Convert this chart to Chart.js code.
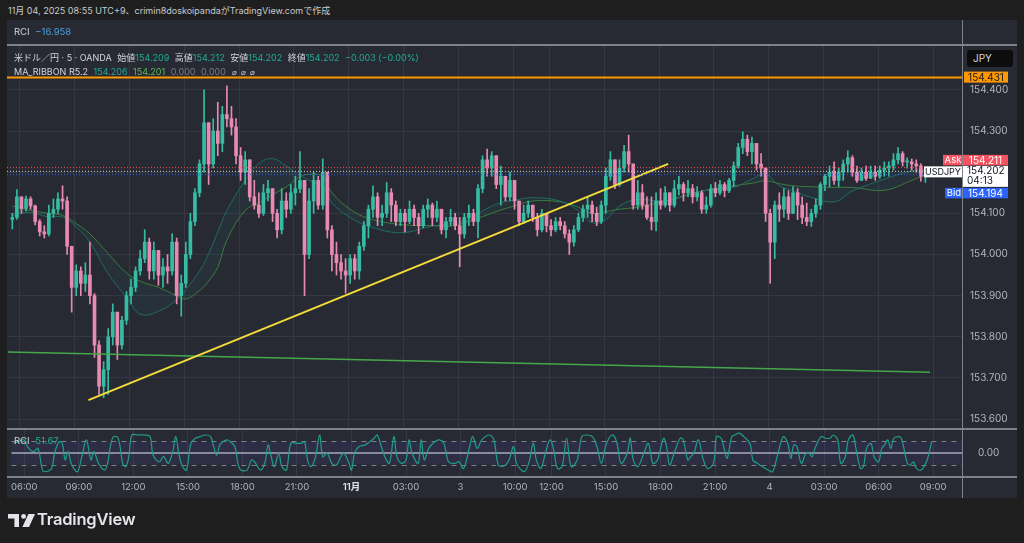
<!DOCTYPE html>
<html lang="ja">
<head>
<meta charset="utf-8">
<title>米ドル／円 · 5 · OANDA</title>
<script src="https://cdn.jsdelivr.net/npm/chart.js@4.4.1/dist/chart.umd.min.js"></script>
<style>
  html, body { margin: 0; padding: 0; }
  body {
    width: 1024px; height: 543px; position: relative; overflow: hidden;
    background: #1e1e1e; color: #d1d4dc;
    font-family: Inter, "Noto Sans CJK JP", sans-serif;
  }
  .abs { position: absolute; }
  #stamp { left: 8px; top: 4px; font-size: 9px; line-height: 14px; color: #c8cad0; white-space: nowrap; }
  #panel { left: 7px; top: 20px; width: 1010px; height: 478px; background: #272a33; }
  .pane { left: 7px; width: 1010px; }
  #mainPane { top: 45px; height: 384px; }
  #rciPane { top: 429px; height: 69px; }
  .hsep { left: 7px; width: 1010px; height: 2px; background: #7f828b; }
  #vsep { left: 962px; top: 20px; width: 1px; height: 478px; background: #7f828b; }
  .legend { left: 14px; font-size: 9px; line-height: 14px; white-space: nowrap; color: #d1d4dc; }
  .legend .g { margin-left: 3px; }
  .up { color: #22ab94; }
  .ma2 { color: #5cb85c; }
  .dim { color: #787b86; }
  .blue { color: #4a9fdc; }
  .nil { font-size: 8px; color: #c4c6cc; margin-left: 4px; }
  #jpy { left: 967px; top: 50px; width: 46px; height: 17px; background: #0d0d0d; border-radius: 3px;
         font-size: 10px; line-height: 17px; text-indent: 6px; color: #d1d4dc; }
  #brand { left: 37px; top: 509px; font-size: 16.5px; font-weight: 600; color: #e3e5ea; letter-spacing: -0.2px; }
</style>
</head>
<body>
<div id="stamp" class="abs">11月 04, 2025 08:55 UTC+9、crimin8doskoipandaがTradingView.comで作成</div>
<div id="panel" class="abs"></div>
<div id="mainPane" class="abs pane"><canvas id="mainChart"></canvas></div>
<div id="rciPane" class="abs pane"><canvas id="rciChart"></canvas></div>

<div class="abs hsep" style="top:44px"></div>
<div class="abs hsep" style="top:428px"></div>
<div class="abs hsep" style="top:476px"></div>
<div id="vsep" class="abs"></div>

<div class="abs legend" style="top:25px;font-size:9.5px">RCI <span class="blue g">−16.958</span></div>
<div class="abs legend" style="top:51px">米ドル／円 · 5 · OANDA
  <span class="g">始値</span><span class="up">154.209</span>
  <span class="g">高値</span><span class="up">154.212</span>
  <span class="g">安値</span><span class="up">154.202</span>
  <span class="g">終値</span><span class="up">154.202</span>
  <span class="up g">−0.003 (−0.00%)</span></div>
<div class="abs legend" style="top:65px">MA_RIBBON R5.2
  <span class="up g">154.206</span>
  <span class="ma2 g">154.201</span>
  <span class="dim g">0.000</span>
  <span class="dim g">0.000</span>
  <span class="nil">⌀</span><span class="nil">⌀</span><span class="nil">⌀</span></div>
<div class="abs legend" style="top:434px;font-size:9.5px">RCI <span class="up g">51.67</span></div>
<div id="jpy" class="abs">JPY</div>

<svg class="abs" width="28" height="14" viewBox="0 0 28 14" style="left:8px;top:514px">
  <path d="M0 0h11v13h-4.6V4.6H0z" fill="#e3e5ea"/>
  <circle cx="15.6" cy="2.4" r="2.4" fill="#e3e5ea"/>
  <path d="M20.4 0H27l-6 13h-6.6z" fill="#e3e5ea"/>
</svg>
<div id="brand" class="abs">TradingView</div>

<script>
// 5分足を15分ごとにまとめて読み取ったローソク足（金 05:30 〜 火 08:45）
const opens = [
  154.085,154.090,154.140,154.112,154.135,154.118,154.080,154.055,154.050,154.100,
  154.110,154.135,154.130,154.020,153.920,153.960,153.930,153.950,153.900,153.780,
  153.680,153.720,153.800,153.860,153.780,153.840,153.900,153.920,153.960,153.990,
  154.030,153.960,154.010,153.950,153.970,153.960,154.030,153.900,153.930,154.000,
  154.080,154.150,154.220,154.320,154.220,154.300,154.270,154.340,154.330,154.310,
  154.240,154.200,154.230,154.140,154.120,154.100,154.150,154.160,154.100,154.060,
  154.130,154.110,154.150,154.160,154.180,154.000,154.130,154.180,154.120,154.200,
  154.060,154.000,153.980,153.960,153.950,153.990,153.960,154.020,154.070,154.110,
  154.140,154.090,154.100,154.150,154.120,154.080,154.100,154.080,154.110,154.090,
  154.070,154.110,154.120,154.090,154.110,154.060,154.080,154.090,
  154.070,154.050,154.090,154.100,154.080,154.160,154.230,154.210,154.240,154.170,154.190,154.140,
  154.180,154.130,154.080,154.100,154.120,154.090,154.060,154.100,154.070,154.060,154.080,154.070,
  154.050,154.030,154.060,154.090,154.110,154.120,154.100,154.080,154.120,154.190,154.230,154.170,
  154.210,154.250,154.220,154.120,154.150,154.120,154.090,154.080,154.130,154.120,154.150,154.120,
  154.160,154.170,154.150,154.160,154.140,154.150,154.110,154.120,154.160,154.150,154.170,154.155,
  154.180,154.215,154.260,154.280,154.250,154.270,154.220,154.210,154.100,154.030,154.120,154.110,
  154.140,154.100,154.150,154.120,154.090,154.080,154.100,154.120,154.170,154.190,154.200,154.180,
  154.200,154.220,154.235,154.200,154.180,154.200,154.185,154.200,154.190,154.205,154.210,154.215,
  154.230,154.245,154.225,154.225,154.220,154.215,154.190,154.195
];
const highs = [
  154.100,154.158,154.140,154.142,154.140,154.120,154.085,154.070,154.120,154.135,
  154.150,154.167,154.140,154.020,153.975,153.970,153.980,154.030,153.905,153.790,
  153.740,153.820,153.880,153.860,153.850,153.910,153.940,153.970,154.010,154.060,
  154.040,154.030,154.010,153.990,154.000,154.050,154.040,153.950,154.030,154.100,
  154.160,154.230,154.400,154.320,154.330,154.370,154.360,154.410,154.360,154.330,
  154.260,154.250,154.230,154.180,154.150,154.170,154.180,154.160,154.110,154.160,
  154.150,154.170,154.190,154.250,154.180,154.160,154.200,154.190,154.232,154.200,
  154.070,154.030,154.000,153.990,154.000,154.000,154.030,154.080,154.120,154.167,
  154.150,154.120,154.175,154.160,154.130,154.110,154.110,154.130,154.120,154.100,
  154.120,154.135,154.125,154.130,154.110,154.090,154.110,154.100,
  154.090,154.100,154.120,154.110,154.170,154.240,154.256,154.250,154.240,154.215,154.190,154.200,
  154.180,154.130,154.120,154.130,154.120,154.100,154.110,154.100,154.085,154.090,154.090,154.080,
  154.060,154.070,154.100,154.120,154.140,154.130,154.115,154.130,154.210,154.250,154.230,154.230,
  154.265,154.290,154.220,154.180,154.170,154.140,154.140,154.150,154.160,154.165,154.150,154.180,
  154.190,154.175,154.180,154.170,154.165,154.155,154.140,154.170,154.175,154.180,154.175,154.185,
  154.225,154.270,154.298,154.290,154.285,154.270,154.245,154.210,154.110,154.130,154.150,154.160,
  154.155,154.165,154.160,154.140,154.125,154.110,154.135,154.175,154.195,154.215,154.225,154.210,
  154.230,154.252,154.240,154.215,154.210,154.215,154.215,154.215,154.215,154.225,154.225,154.245,
  154.260,154.250,154.235,154.232,154.230,154.220,154.205,154.212
];
const lows = [
  154.062,154.085,154.100,154.105,154.110,154.072,154.045,154.040,154.045,154.090,
  154.100,154.110,154.000,153.860,153.900,153.900,153.910,153.880,153.750,153.660,
  153.652,153.660,153.780,153.745,153.770,153.830,153.880,153.910,153.950,153.980,
  153.940,153.940,153.925,153.920,153.930,153.950,153.880,153.850,153.920,153.990,
  154.070,154.140,154.200,154.170,154.210,154.240,154.250,154.310,154.290,154.220,
  154.180,154.170,154.130,154.110,154.090,154.095,154.130,154.080,154.040,154.050,
  154.090,154.100,154.120,154.150,153.900,153.990,154.100,154.110,154.110,154.040,
  153.960,153.950,153.940,153.906,153.930,153.940,153.940,154.010,154.040,154.090,
  154.070,154.070,154.090,154.080,154.070,154.070,154.055,154.075,154.070,154.050,
  154.065,154.090,154.070,154.080,154.050,154.040,154.070,154.060,
  153.970,154.040,154.070,154.070,154.040,154.150,154.190,154.190,154.160,154.120,154.130,154.130,
  154.110,154.070,154.075,154.090,154.080,154.045,154.055,154.055,154.045,154.055,154.060,154.040,
  154.000,154.020,154.055,154.080,154.090,154.080,154.070,154.075,154.100,154.180,154.160,154.165,
  154.200,154.200,154.110,154.110,154.110,154.085,154.060,154.057,154.110,154.115,154.105,154.115,
  154.145,154.130,154.140,154.125,154.130,154.100,154.100,154.115,154.140,154.145,154.140,154.150,
  154.165,154.210,154.245,154.240,154.220,154.205,154.190,154.080,153.930,153.990,154.080,154.090,
  154.085,154.100,154.085,154.075,154.070,154.068,154.090,154.110,154.155,154.165,154.170,154.165,
  154.180,154.200,154.190,154.175,154.180,154.180,154.185,154.180,154.185,154.190,154.190,154.205,
  154.220,154.215,154.210,154.205,154.200,154.178,154.175,154.190
];
const closes = [
  154.090,154.140,154.112,154.135,154.118,154.080,154.055,154.050,154.100,154.110,
  154.135,154.130,154.020,153.920,153.960,153.930,153.950,153.900,153.780,153.680,
  153.720,153.800,153.860,153.780,153.840,153.900,153.920,153.960,153.990,154.030,
  153.960,154.010,153.950,153.970,153.960,154.030,153.900,153.930,154.000,154.080,
  154.150,154.220,154.320,154.220,154.300,154.270,154.340,154.330,154.310,154.240,
  154.200,154.230,154.140,154.120,154.100,154.150,154.160,154.100,154.060,154.130,
  154.110,154.150,154.160,154.180,154.000,154.130,154.180,154.120,154.200,154.060,
  154.000,153.980,153.960,153.950,153.990,153.960,154.020,154.070,154.110,154.140,
  154.090,154.100,154.150,154.120,154.080,154.100,154.080,154.110,154.090,154.070,
  154.110,154.120,154.090,154.110,154.060,154.080,154.090,154.070,
  154.050,154.090,154.100,154.080,154.160,154.230,154.210,154.240,154.170,154.190,154.140,154.180,
  154.130,154.080,154.100,154.120,154.090,154.060,154.100,154.070,154.060,154.080,154.070,154.050,
  154.030,154.060,154.090,154.110,154.120,154.100,154.080,154.120,154.190,154.230,154.170,154.210,
  154.250,154.220,154.120,154.150,154.120,154.090,154.080,154.130,154.120,154.150,154.120,154.160,
  154.170,154.150,154.160,154.140,154.150,154.110,154.120,154.160,154.150,154.170,154.155,154.180,
  154.215,154.260,154.280,154.250,154.270,154.220,154.210,154.100,154.030,154.120,154.110,154.140,
  154.100,154.150,154.120,154.090,154.080,154.100,154.120,154.170,154.190,154.200,154.180,154.200,
  154.220,154.235,154.200,154.180,154.200,154.185,154.200,154.190,154.205,154.210,154.215,154.230,
  154.245,154.225,154.225,154.220,154.215,154.190,154.195,154.202
];

// MAリボン（15分足の番号ごとに読み取り）
const maBars = [0, 4, 8, 11, 14, 17, 21, 25, 28, 32, 36, 38, 41, 43, 45, 47, 51, 54, 57, 60,
  63, 65, 68, 70, 74, 78, 85, 92, 96, 100, 103, 107, 110, 114, 120, 124, 127, 130, 133, 137,
  143, 151, 158, 162, 165, 168, 171, 174, 180, 184, 191, 197, 201];
const maFast = [154.095, 154.102, 154.091, 154.091, 154.067, 154.030, 153.953, 153.896, 153.855, 153.862,
  153.890, 153.915, 153.960, 154.002, 154.055, 154.107, 154.180, 154.221, 154.233, 154.215,
  154.192, 154.180, 154.164, 154.125, 154.090, 154.069, 154.053, 154.069, 154.075, 154.085,
  154.106, 154.126, 154.132, 154.138, 154.130, 154.106, 154.077, 154.085, 154.118, 154.134,
  154.130, 154.154, 154.163, 154.183, 154.195, 154.167, 154.155, 154.142, 154.128, 154.154,
  154.183, 154.203, 154.206];
const maSlow = [154.118, 154.107, 154.100, 154.095, 154.075, 154.050, 154.002, 153.955, 153.935, 153.920,
  153.900, 153.892, 153.912, 153.935, 153.969, 154.035, 154.107, 154.125, 154.145, 154.164,
  154.189, 154.195, 154.190, 154.150, 154.110, 154.088, 154.073, 154.070, 154.069, 154.080,
  154.092, 154.108, 154.118, 154.130, 154.128, 154.115, 154.100, 154.104, 154.110, 154.115,
  154.130, 154.154, 154.167, 154.173, 154.179, 154.172, 154.167, 154.165, 154.163, 154.163,
  154.156, 154.180, 154.198];

// RCI（5分足の番号と値）
const rciPos = [-1, 2, 6, 8, 12, 15, 18, 20, 24, 26,
  29, 31, 33, 35, 37, 41, 44, 47, 50, 52,
  55, 59, 61, 63, 65, 68, 71, 73, 75, 77,
  81, 85, 89, 91, 95, 98, 101, 104, 106, 108,
  110, 113, 116, 119, 122, 125, 129, 131, 133, 135,
  137, 140, 142, 145, 147, 149, 153, 156, 158, 162,
  165, 167, 169, 171, 174, 176, 179, 182, 186, 189,
  191, 193, 195, 198, 201, 203, 206, 209, 212, 215,
  217, 220, 222, 224, 227, 231, 234, 237, 239, 241,
  244, 247, 250, 252, 255, 258, 260, 262, 266, 268,
  270, 273, 277, 280, 283, 286, 290, 293, 296, 300,
  302, 305, 308, 313, 316, 319, 323, 326, 329, 331,
  336, 339, 342, 344, 347, 350, 353, 355, 358, 361,
  364, 367, 371, 374, 377, 381, 384, 387, 390, 394,
  397, 400, 404, 406, 408, 411, 415, 418, 421, 424,
  428, 430, 432, 435, 439, 441, 444, 446, 448, 451,
  454, 457, 461, 463, 466, 468, 470, 473, 475, 478,
  481, 485, 487, 490, 493, 497, 500, 503, 507, 510,
  512, 514, 516, 519, 522, 524, 526, 528, 532, 535,
  538, 540, 543, 545, 548, 550, 553, 555, 558, 560,
  562, 565, 567, 570, 572, 574, 576, 578, 580, 583,
  585, 589, 591, 593, 595, 598, 602, 605];
const rciValues = [42, 49, 57, 28, 6, 20, -74, -81, -67, -1,
  49, 42, -30, 6, -45, -81, -16, 57, -30, 6,
  -45, -74, -45, 35, 71, 64, -45, -59, -16, 78,
  78, 78, 71, -9, -38, -16, -45, 6, 71, -1,
  -52, -74, 42, 64, 71, 78, 71, 28, -9, 35,
  49, 57, 49, 28, -45, -74, -74, -30, -38, -74,
  -38, 35, -16, -59, -1, -59, -74, 42, 42, 42,
  49, -30, -59, -23, 78, -16, -1, -45, -52, -16,
  -1, -38, -74, -1, 28, 35, 49, 64, 78, 42,
  -16, -45, 71, -16, -45, -30, 57, -1, -45, 57,
  -30, 20, 49, 57, 42, -38, -45, -38, -67, 28,
  71, 20, 57, 78, 57, -52, -55, -30, 28, -45,
  -81, -45, 42, -30, -67, -1, 57, 28, -67, -59,
  64, -59, -30, 71, 78, 71, 28, -45, 35, 78,
  49, -45, -1, 64, -30, -59, -1, 42, -45, -30,
  64, 28, -52, -1, 64, 57, -30, -16, -1, 57,
  -23, -67, -45, 71, 64, 20, -23, 71, 78, 86,
  71, 42, -30, -45, -59, -74, -81, -16, 71, 42,
  -23, 35, 28, -45, -1, -1, -16, 20, 71, 64,
  64, 78, 57, -45, -16, 57, 78, 20, -67, -59,
  20, 42, -16, -38, 20, 35, 57, 20, 64, 71,
  64, -45, -52, -38, -67, -74, -30, 49];

const priceTicks = [153.6, 153.7, 153.8, 153.9, 154.0, 154.1, 154.2, 154.3, 154.4];
const timeTickPos = [6, 42, 78, 114, 150, 186, 222, 258, 294, 330, 354, 390, 426, 462, 498, 534, 570, 606];
const timeTickLabels = ['06:00', '09:00', '12:00', '15:00', '18:00', '21:00', '11月', '03:00', '3',
  '10:00', '12:00', '15:00', '18:00', '21:00', '4', '03:00', '06:00', '09:00'];

const alertLevel = 154.431;
const askPrice = 154.211;
const lastPrice = 154.202;
const bidPrice = 154.194;
const countdown = '04:13';
const yellowTrend = [[51, 153.646], [432, 154.220]];
const greenTrend = [[-2, 153.763], [604, 153.714]];

const xMin = -2.5, xMax = 625.7;
const priceMin = 153.576, priceMax = 154.509;

const FONT = 'Inter, "Noto Sans CJK JP", sans-serif';
const GRID = '#343843';
const AXIS_TEXT = '#b2b5be';
const UP = '#36bca2';
const DOWN = '#e98ab3';

const barPos = k => k * 3 + 1; // 15分足 → 5分足の番号（中央）
const candleColor = i => (closes[i] >= opens[i] ? UP : DOWN);
const pts = list => list.map(([x, y]) => ({ x, y }));

function tag(ctx, x, y, w, h, bg, text, fg, size) {
  ctx.fillStyle = bg;
  ctx.fillRect(x, y, w, h);
  ctx.fillStyle = fg;
  ctx.font = (size || 10) + 'px ' + FONT;
  ctx.textAlign = 'center';
  ctx.textBaseline = 'middle';
  ctx.fillText(text, x + w / 2, y + h / 2 + 0.5);
}

function hLine(ctx, area, py, color, width, dash) {
  ctx.strokeStyle = color;
  ctx.lineWidth = width;
  ctx.setLineDash(dash);
  ctx.beginPath();
  ctx.moveTo(area.left, py);
  ctx.lineTo(area.right, py);
  ctx.stroke();
}

// Chart.js が上下に取る余白を打ち消して、描画領域をペインに合わせる
function fitPane(chart, wrap, areaTop, areaHeight, axisHeight) {
  for (let i = 0; i < 3; i++) {
    const a = chart.chartArea;
    const padTop = a.top;
    const padBottom = chart.height - a.bottom - axisHeight;
    wrap.style.top = (areaTop - padTop) + 'px';
    wrap.style.height = (areaHeight + padTop + padBottom + axisHeight) + 'px';
    chart.resize();
  }
}

const priceOverlay = {
  id: 'priceOverlay',
  afterDatasetsDraw(chart) {
    const { ctx, chartArea: a, scales: { y } } = chart;
    ctx.save();
    hLine(ctx, a, y.getPixelForValue(askPrice), '#f7525f', 1, [1, 2]);
    hLine(ctx, a, y.getPixelForValue(lastPrice), '#d1d4dc', 1, [1, 2]);
    hLine(ctx, a, y.getPixelForValue(bidPrice), '#2962ff', 1, [1, 2]);
    hLine(ctx, a, Math.round(y.getPixelForValue(alertLevel)) + 0.5, '#ff9800', 2, []);
    ctx.restore();
  },
  afterDraw(chart) {
    const { ctx, chartArea: a, scales: { y } } = chart;
    const right = a.right;
    ctx.save();
    const pa = y.getPixelForValue(alertLevel);
    tag(ctx, right + 1, pa - 5.5, 44, 11, '#ff9800', alertLevel.toFixed(3), '#131722');

    const top = y.getPixelForValue(lastPrice) - 5.5;
    // 現在値（2段）
    ctx.fillStyle = '#ffffff';
    ctx.fillRect(right, top, 45, 21);
    ctx.fillStyle = '#131722';
    ctx.font = '10px ' + FONT;
    ctx.textAlign = 'left';
    ctx.textBaseline = 'middle';
    ctx.fillText(lastPrice.toFixed(3), right + 4, top + 5.5);
    ctx.fillText(countdown, right + 4, top + 15.5);
    tag(ctx, right - 39, top + 0.5, 38, 11, '#ffffff', 'USDJPY', '#131722', 9);

    tag(ctx, right - 20, top - 11, 20, 10.5, '#f7525f', 'Ask', '#ffffff', 9.5);
    tag(ctx, right, top - 11, 45, 10.5, '#f7525f', askPrice.toFixed(3), '#ffffff');
    tag(ctx, right - 18, top + 22, 18, 10.5, '#2962ff', 'Bid', '#ffffff', 9.5);
    tag(ctx, right, top + 22, 45, 10.5, '#2962ff', bidPrice.toFixed(3), '#ffffff');
    ctx.restore();
  }
};

const rciBand = {
  id: 'rciBand',
  beforeDatasetsDraw(chart) {
    const { ctx, chartArea: a, scales: { y } } = chart;
    const hi = y.getPixelForValue(50), lo = y.getPixelForValue(-50);
    ctx.save();
    ctx.fillStyle = 'rgba(100, 80, 230, 0.11)';
    ctx.fillRect(a.left, hi, a.right - a.left, lo - hi);
    hLine(ctx, a, Math.round(hi) + 0.5, '#7c7f88', 1, [5, 5]);
    hLine(ctx, a, Math.round(lo) + 0.5, '#7c7f88', 1, [5, 5]);
    hLine(ctx, a, y.getPixelForValue(0), '#a9acb5', 1.5, []);
    ctx.restore();
  }
};

const xAxisBase = {
  type: 'linear',
  min: xMin,
  max: xMax,
  offset: false,
  afterBuildTicks: s => { s.ticks = timeTickPos.map(v => ({ value: v })); },
  grid: { color: GRID, drawTicks: false, offset: false },
  border: { display: false }
};

const mainChart = new Chart(document.getElementById('mainChart'), {
  type: 'bar',
  data: {
    datasets: [
      {
        type: 'line', data: pts(yellowTrend), borderColor: '#f4dc3a', borderWidth: 2,
        pointRadius: 0, order: 0
      },
      {
        type: 'line', data: pts(greenTrend), borderColor: '#47a84b', borderWidth: 1.5,
        pointRadius: 0, order: 1
      },
      {
        data: opens.map((o, i) => ({ x: barPos(i), y: [o, closes[i]] })),
        backgroundColor: c => candleColor(c.dataIndex),
        barThickness: 3, minBarLength: 1, grouped: false, borderWidth: 0, order: 2
      },
      {
        data: lows.map((l, i) => ({ x: barPos(i), y: [l, highs[i]] })),
        backgroundColor: c => candleColor(c.dataIndex),
        barThickness: 1, grouped: false, borderWidth: 0, order: 3
      },
      {
        type: 'line', data: maBars.map((k, i) => ({ x: barPos(k), y: maSlow[i] })),
        borderColor: '#3d7c3b', borderWidth: 1, pointRadius: 0, tension: 0.4, fill: false, order: 5
      },
      {
        type: 'line', data: maBars.map((k, i) => ({ x: barPos(k), y: maFast[i] })),
        borderColor: '#1f6d61', borderWidth: 1, pointRadius: 0, tension: 0.4,
        fill: '-1', backgroundColor: 'rgba(38, 166, 154, 0.06)', order: 4
      }
    ]
  },
  options: {
    responsive: true,
    maintainAspectRatio: false,
    animation: false,
    events: [],
    layout: { padding: 0, autoPadding: false },
    plugins: { legend: { display: false }, tooltip: { enabled: false } },
    scales: {
      x: Object.assign({}, xAxisBase, {
        afterFit: s => { s.height = 0; },
        ticks: { display: false }
      }),
      y: {
        position: 'right',
        min: priceMin,
        max: priceMax,
        afterBuildTicks: s => { s.ticks = priceTicks.map(v => ({ value: v })); },
        afterFit: s => { s.width = 54; },
        ticks: { color: AXIS_TEXT, font: { family: FONT, size: 10 }, padding: 7, callback: v => v.toFixed(3) },
        grid: { color: GRID, drawTicks: false },
        border: { display: false }
      }
    }
  },
  plugins: [priceOverlay]
});

const rciChart = new Chart(document.getElementById('rciChart'), {
  type: 'line',
  data: {
    datasets: [{
      data: rciPos.map((u, i) => ({ x: u, y: rciValues[i] })),
      borderColor: '#1f9d89', borderWidth: 1.2, pointRadius: 0, tension: 0.35
    }]
  },
  options: {
    responsive: true,
    maintainAspectRatio: false,
    animation: false,
    events: [],
    layout: { padding: 0, autoPadding: false },
    plugins: { legend: { display: false }, tooltip: { enabled: false } },
    scales: {
      x: Object.assign({}, xAxisBase, {
        afterFit: s => { s.height = 21; },
        ticks: {
          autoSkip: false,
          maxRotation: 0,
          padding: 4,
          color: c => (timeTickLabels[c.index] === '11月' ? '#e0e3eb' : AXIS_TEXT),
          font: c => ({ family: FONT, size: 9.5, weight: timeTickLabels[c.index] === '11月' ? '600' : '400' }),
          callback: (v, i) => timeTickLabels[i]
        }
      }),
      y: {
        position: 'right',
        min: -104,
        max: 104,
        afterBuildTicks: s => { s.ticks = [{ value: 0 }]; },
        afterFit: s => { s.width = 54; },
        ticks: { color: AXIS_TEXT, font: { family: FONT, size: 10 }, padding: 7, callback: v => v.toFixed(2) },
        grid: { display: false },
        border: { display: false }
      }
    }
  },
  plugins: [rciBand]
});

fitPane(mainChart, document.getElementById('mainPane'), 45, 384, 0);
fitPane(rciChart, document.getElementById('rciPane'), 429, 48, 21);
</script>
</body>
</html>
